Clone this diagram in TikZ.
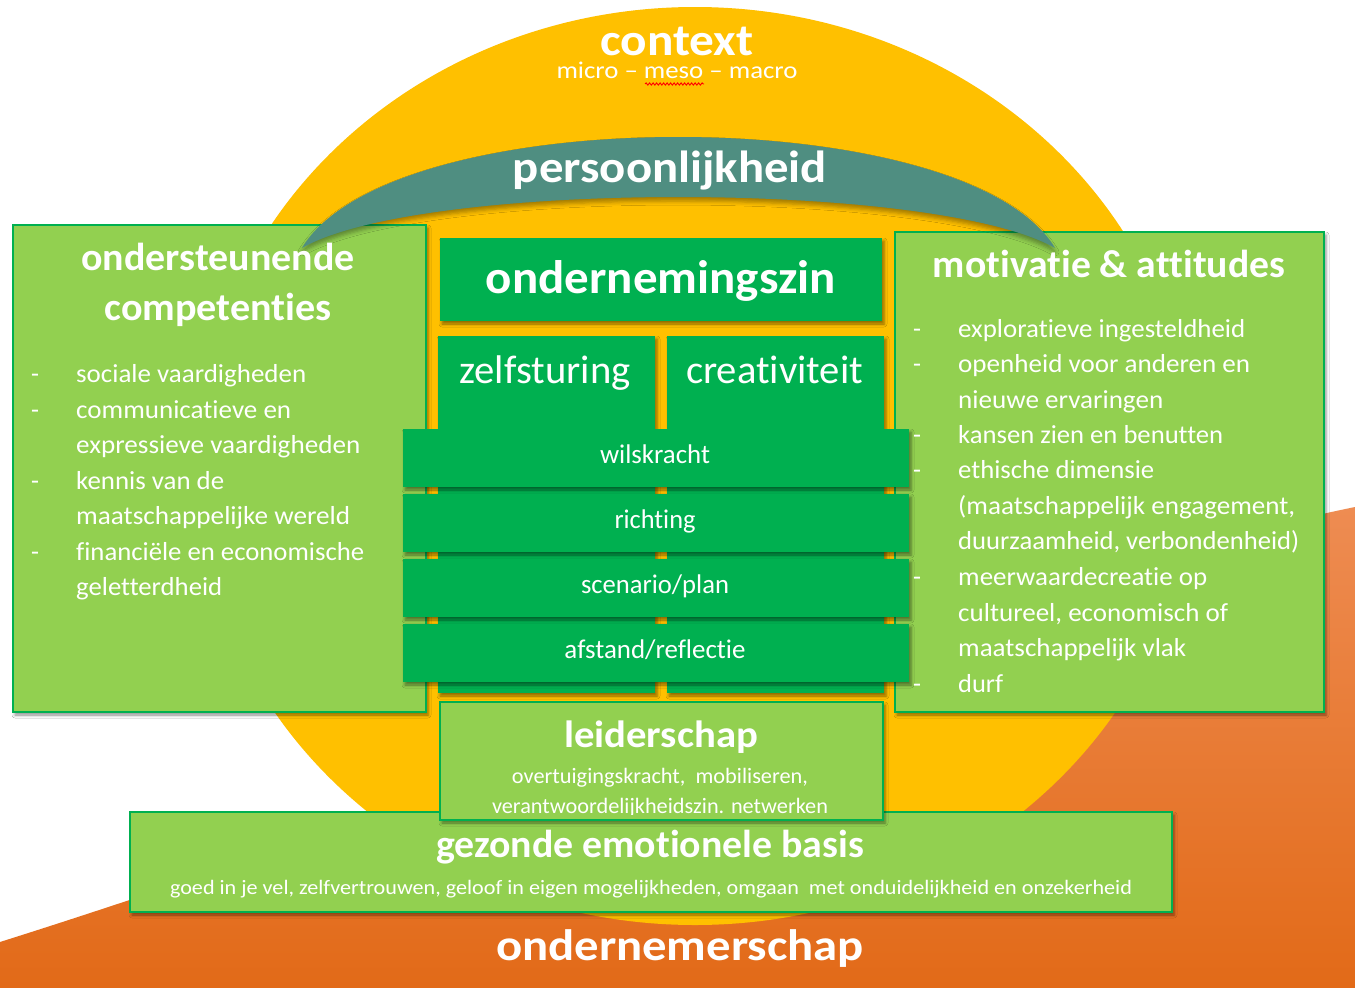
\documentclass[tikz,border=0pt]{standalone}
\usepackage{fontspec}
\setmainfont{Carlito}[Ligatures=CommonOff]
\usepackage{graphicx}
\usetikzlibrary{shadows.blur,decorations.pathmorphing}
\definecolor{lg}{RGB}{146,208,80}
\definecolor{dg}{RGB}{0,176,80}
\definecolor{yl}{RGB}{255,192,0}
\definecolor{tl}{RGB}{79,142,129}
\definecolor{orA}{RGB}{238,140,82}
\definecolor{orB}{RGB}{244,124,44}
\definecolor{orC}{RGB}{226,106,24}
\newcommand{\fw}[3]{\resizebox{#1pt}{\height}{\fontsize{#2pt}{#2pt}\selectfont #3}}
\begin{document}
\begin{tikzpicture}[x=1pt,y=-1pt,
  shd/.style={blur shadow={shadow xshift=2pt,shadow yshift=-3pt,shadow blur radius=3pt,shadow opacity=45}},
  lgbox/.style={fill=lg,draw=dg,line width=1.5pt,inner sep=0pt,outer sep=0pt,shd},
  dgbox/.style={fill=dg,inner sep=0pt,outer sep=0pt,shd},
  txt/.style={text=white,inner sep=0pt,anchor=base},
  txtl/.style={text=white,inner sep=0pt,anchor=base west}]
\useasboundingbox (0,0) rectangle (1355,988);
\fill[white] (0,0) rectangle (1355,988);
% orange ground
\shade[top color=orA,middle color=orB,bottom color=orC]
  (0,942) .. controls (450,800) and (1000,580) .. (1355,507) -- (1355,988) -- (0,988) -- cycle;
% yellow context
\fill[yl] (695,466) ellipse [x radius=498, y radius=459];
% side boxes
\node[lgbox,minimum width=413pt,minimum height=487pt] (lb) at (219.5,468.5) {};
\node[lgbox,minimum width=429pt,minimum height=480pt] (rb) at (1109.5,472) {};
% persoonlijkheid arc
\path[fill=tl,blur shadow={shadow xshift=0pt,shadow yshift=-4pt,shadow blur radius=4pt,shadow opacity=35}]
  (302,248) .. controls (390,100) and (966,100) .. (1055,248)
  .. controls (936,180) and (420,180) .. (302,248) -- cycle;
% centre
\node[dgbox,minimum width=442pt,minimum height=83pt] (oz) at (661,279.5) {};
\node[dgbox,minimum width=217pt,minimum height=357pt] (zs) at (546.5,514.5) {};
\node[dgbox,minimum width=217pt,minimum height=357pt] (cr) at (775.5,514.5) {};
\node[dgbox,minimum width=506pt,minimum height=58pt] (b1) at (656,458) {};
\node[dgbox,minimum width=506pt,minimum height=58pt] (b2) at (656,523) {};
\node[dgbox,minimum width=506pt,minimum height=58pt] (b3) at (656,588) {};
\node[dgbox,minimum width=506pt,minimum height=58pt] (b4) at (656,653) {};
\node[lgbox,minimum width=1042pt,minimum height=100pt] (gz) at (651,862) {};
\node[lgbox,minimum width=443pt,minimum height=118pt] (ld) at (661.5,761) {};
% texts
\node[txt,text depth=0pt] (ctx) at (677,55) {\fw{153}{45}{\bfseries context}};
\node[txt] (mmm) at (677,78) {\fw{241}{24}{micro – meso – macro}};
\draw[red,line width=0.9pt,decorate,decoration={snake,amplitude=1.1pt,segment length=3.5pt}] (645,84) -- (704,84);
\node[txt] (pers) at (670,182) {\fw{314}{45}{\bfseries persoonlijkheid}};
\node[txt] (ot1) at (218,270) {\fw{273}{39}{\bfseries ondersteunende}};
\node[txt] (ot2) at (218,320) {\fw{227}{39}{\bfseries competenties}};
\node[txt] (mt) at (1109,277) {\fw{352}{39}{\bfseries motivatie \& attitudes}};
\node[txt] (ozt) at (661,293) {\fw{350}{47}{\bfseries ondernemingszin}};
\node[txt] (zst) at (545,383) {\fw{171}{40}{zelfsturing}};
\node[txt] (crt) at (774.5,383) {\fw{177}{40}{creativiteit}};
\node[txt] (wk) at (655,463) {\fw{110}{27}{wilskracht}};
\node[txt] (ri) at (655,528) {\fw{81}{27}{richting}};
\node[txt] (sc) at (655,593) {\fw{148}{27}{scenario/plan}};
\node[txt] (af) at (655,658) {\fw{181}{27}{afstand/reflectie}};
\node[txt] (ldt) at (661,747) {\fw{194}{38}{\bfseries leiderschap}};
\node[txt] (ld1) at (660,783) {\fw{296}{22}{overtuigingskracht,\ \ mobiliseren,}};
\begin{scope}
\clip (440,700) rectangle (883,814);
\node[txt] (ld2) at (660,813) {\fw{336}{22}{verantwoordelijkheidszin. netwerken}};
\end{scope}
\node[txt] (gzt) at (650,857) {\fw{428}{39}{\bfseries gezonde emotionele basis}};
\node[txt] (gz1) at (651,894) {\fw{962}{20.5}{goed in je vel, zelfvertrouwen, geloof in eigen mogelijkheden, omgaan\ \ met onduidelijkheid en onzekerheid}};
\node[txt] (ond) at (680,960) {\fw{368}{44}{\bfseries ondernemerschap}};
% left list
\node[txtl] (l1) at (76,382) {\fw{230}{26}{sociale vaardigheden}};
\node[txtl] (l2) at (76,418) {\fw{215}{26}{communicatieve en}};
\node[txtl] (l3) at (76,453) {\fw{284}{26}{expressieve vaardigheden}};
\node[txtl] (l4) at (76,489) {\fw{148}{26}{kennis van de}};
\node[txtl] (l5) at (76,524) {\fw{274}{26}{maatschappelijke wereld}};
\node[txtl] (l6) at (76,560) {\fw{288}{26}{financiële en economische}};
\node[txtl] (l7) at (76,595) {\fw{146}{26}{geletterdheid}};
\foreach \yy/\nm in {382/d1,418/d2,489/d3,560/d4}
  \node[txtl] (l\nm) at (31,\yy) {\fontsize{26pt}{26pt}\selectfont -};
% right list
\node[txtl] (r1) at (958,337) {\fw{287}{26}{exploratieve ingesteldheid}};
\node[txtl] (r2) at (958,372) {\fw{292}{26}{openheid voor anderen en}};
\node[txtl] (r3) at (958,408) {\fw{205}{26}{nieuwe ervaringen}};
\node[txtl] (r4) at (958,443) {\fw{265}{26}{kansen zien en benutten}};
\node[txtl] (r5) at (958,478) {\fw{196}{26}{ethische dimensie}};
\node[txtl] (r6) at (958,514) {\fw{337}{26}{(maatschappelijk engagement,}};
\node[txtl] (r7) at (958,549) {\fw{341}{26}{duurzaamheid, verbondenheid)}};
\node[txtl] (r8) at (958,585) {\fw{249}{26}{meerwaardecreatie op}};
\node[txtl] (r9) at (958,621) {\fw{270}{26}{cultureel, economisch of}};
\node[txtl] (r10) at (958,656) {\fw{228}{26}{maatschappelijk vlak}};
\node[txtl] (r11) at (958,692) {\fw{45}{26}{durf}};
\foreach \yy/\nm in {337/d1,372/d2,443/d3,478/d4,585/d5,692/d6}
  \node[txtl] (r\nm) at (913,\yy) {\fontsize{26pt}{26pt}\selectfont -};
\end{tikzpicture}
\end{document}
